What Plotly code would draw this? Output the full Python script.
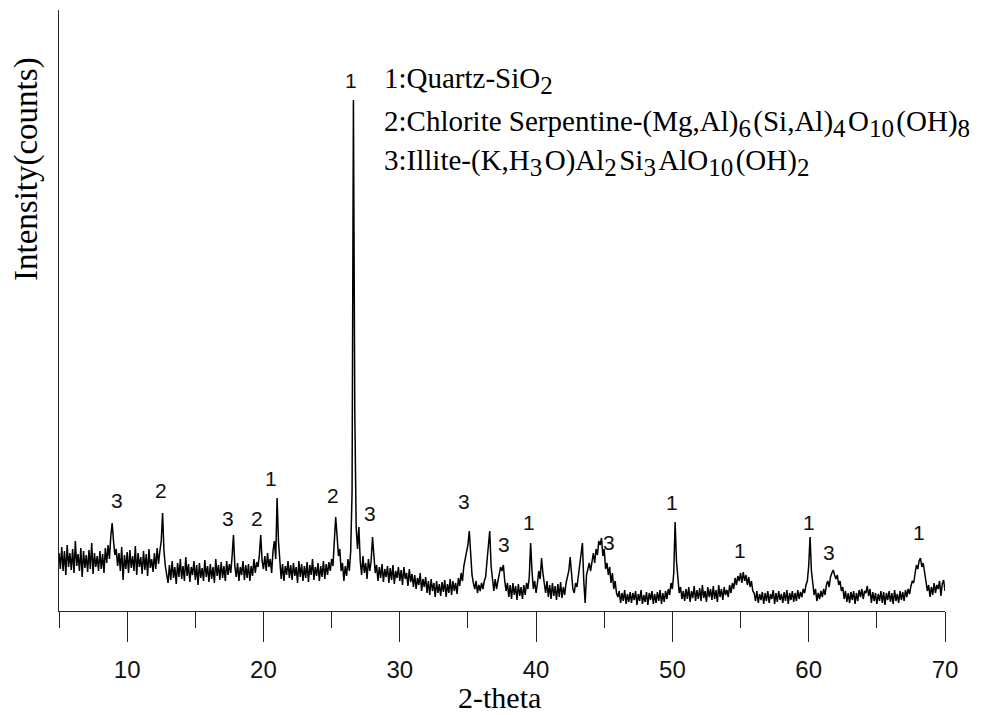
import numpy as np
import plotly.graph_objects as go

# ---- data ----
two_theta_start = 5.0
two_theta_step = 0.1

# intensity (counts, arbitrary), one row per degree: x.0 ... x.9
intensity = [
    58, 42, 64, 40, 60, 36, 66, 44, 58, 41,    # 5
    62, 38, 70, 45, 57, 40, 63, 34, 60, 43,    # 6
    56, 39, 61, 42, 68, 37, 58, 44, 55, 40,    # 7
    60, 42, 57, 38, 63, 48, 66, 52, 75, 88,    # 8
    70, 56, 62, 45, 58, 40, 64, 31, 56, 42,    # 9
    59, 38, 61, 43, 55, 40, 65, 36, 58, 44,    # 10
    54, 37, 60, 41, 57, 35, 62, 43, 52, 39,    # 11
    58, 42, 63, 47, 60, 70, 98, 60, 45, 38,    # 12
    28, 46, 31, 50, 33, 44, 27, 48, 34, 52,    # 13
    32, 45, 30, 54, 35, 47, 29, 44, 36, 50,    # 14
    31, 46, 26, 48, 33, 43, 30, 51, 34, 45,    # 15
    29, 47, 32, 44, 28, 52, 35, 46, 31, 49,    # 16
    33, 45, 30, 50, 36, 47, 38, 55, 76, 45,    # 17
    34, 48, 30, 44, 36, 50, 31, 46, 33, 47,    # 18
    30, 45, 35, 52, 38, 49, 44, 56, 76, 50,    # 19
    42, 55, 40, 58, 44, 52, 38, 60, 70, 52,    # 20
    113, 70, 44, 32, 47, 30, 45, 36, 50, 33,   # 21
    46, 31, 48, 35, 44, 28, 50, 34, 47, 30,    # 22
    45, 33, 49, 29, 46, 36, 52, 31, 44, 35,    # 23
    48, 30, 45, 34, 50, 32, 47, 36, 49, 40,    # 24
    52, 45, 70, 94, 75, 55, 62, 40, 48, 30,    # 25
    45, 35, 52, 40, 60, 118, 511, 200, 84, 62, # 26
    84, 50, 36, 55, 38, 48, 32, 52, 40, 50,    # 27
    74, 50, 38, 46, 30, 44, 33, 47, 29, 42,    # 28
    34, 45, 28, 43, 31, 46, 27, 40, 33, 44,    # 29
    30, 41, 26, 44, 32, 38, 25, 42, 29, 37,    # 30
    24, 36, 22, 33, 26, 38, 20, 32, 24, 34,    # 31
    18, 30, 16, 32, 20, 28, 14, 30, 18, 27,    # 32
    15, 29, 19, 31, 14, 27, 18, 32, 16, 30,    # 33
    20, 28, 17, 33, 25, 38, 30, 45, 52, 60,    # 34
    66, 80, 58, 36, 28, 22, 30, 18, 26, 20,    # 35
    28, 22, 30, 34, 50, 65, 80, 45, 28, 20,    # 36
    32, 22, 30, 38, 44, 40, 46, 30, 20, 28,    # 37
    14, 26, 12, 28, 16, 25, 11, 27, 15, 24,    # 38
    12, 26, 16, 28, 22, 34, 68, 40, 22, 30,    # 39
    18, 28, 40, 32, 53, 38, 26, 18, 30, 14,    # 40
    26, 12, 28, 15, 25, 11, 27, 14, 29, 13,    # 41
    24, 16, 28, 35, 40, 54, 36, 22, 18, 28,    # 42
    24, 34, 45, 55, 68, 30, 8, 36, 42, 48,     # 43
    40, 52, 58, 48, 62, 56, 70, 66, 73, 55,    # 44
    62, 42, 48, 36, 44, 28, 38, 22, 30, 18,    # 45
    14, 20, 8, 18, 10, 21, 7, 17, 9, 19,       # 46
    8, 18, 11, 20, 6, 17, 10, 21, 7, 16,       # 47
    9, 19, 6, 18, 11, 20, 7, 17, 8, 19,        # 48
    10, 21, 7, 18, 9, 20, 12, 22, 16, 28,      # 49
    22, 38, 89, 50, 30, 18, 24, 12, 20, 10,    # 50
    22, 12, 24, 9, 20, 13, 25, 10, 21, 12,     # 51
    23, 10, 26, 13, 20, 9, 24, 14, 22, 11,     # 52
    25, 12, 21, 9, 26, 14, 22, 11, 24, 16,     # 53
    21, 14, 26, 18, 28, 22, 33, 26, 35, 30,    # 54
    38, 28, 39, 30, 36, 26, 34, 24, 30, 20,    # 55
    18, 10, 20, 8, 17, 11, 19, 7, 18, 10,      # 56
    20, 8, 17, 12, 21, 7, 18, 9, 20, 11,       # 57
    17, 8, 19, 10, 21, 7, 18, 11, 20, 9,       # 58
    18, 10, 21, 12, 19, 14, 22, 18, 26, 30,    # 59
    45, 74, 40, 24, 16, 22, 10, 18, 12, 20,    # 60
    14, 22, 16, 26, 30, 24, 34, 38, 41, 36,    # 61
    32, 36, 26, 30, 20, 24, 12, 20, 9, 18,     # 62
    8, 19, 11, 20, 7, 18, 10, 21, 14, 22,      # 63
    12, 20, 18, 25, 15, 22, 8, 19, 10, 18,     # 64
    7, 17, 10, 20, 8, 19, 6, 18, 11, 20,       # 65
    9, 18, 7, 21, 10, 17, 8, 20, 11, 19,       # 66
    10, 21, 14, 22, 17, 25, 30, 28, 40, 46,    # 67
    42, 50, 53, 44, 48, 36, 30, 20, 26, 14,    # 68
    24, 16, 28, 18, 26, 22, 30, 15, 27, 31,    # 69
    20,                                        # 70
]

two_theta = np.round(
    two_theta_start + two_theta_step * np.arange(len(intensity)), 2
)

# peak labels (phase id) and their positions in data coords
peak_labels = ["3", "2", "3", "2", "1", "2", "1", "3", "3", "3",
               "1", "3", "1", "1", "1", "3", "1"]
peak_label_x = [9.23, 12.46, 17.38, 19.50, 20.55, 25.08, 26.42, 27.82, 34.71,
                37.65, 39.48, 45.35, 49.97, 54.96, 60.03, 61.49, 68.10]
peak_label_y = [111, 121, 93, 93, 133, 116, 531, 98, 110,
                67, 89, 69, 109, 61, 89, 59, 79]

SUB = "<sub><span style='font-size:25px'>{}</span></sub>&#8202;"
legend_lines = [
    "1:Quartz-SiO" + SUB.format("2"),
    "2:Chlorite Serpentine-(Mg,Al)" + SUB.format("6") + "(Si,Al)" + SUB.format("4")
    + "O" + SUB.format("10") + "(OH)" + SUB.format("8"),
    "3:Illite-(K,H" + SUB.format("3") + "O)Al" + SUB.format("2") + "Si" + SUB.format("3")
    + "AlO" + SUB.format("10") + "(OH)" + SUB.format("2"),
]

x_tick_vals = [10, 20, 30, 40, 50, 60, 70]
x_tick_text = ["10", "20", "30", "40", "50", "60", "70"]
x_minor_vals = [5, 15, 25, 35, 45, 55, 65]

# ---- figure ----
OFF = 8  # page body margin
W, H = 987 - OFF, 715 - OFF
ml, mr, mt, mb = 59 - OFF, 42, 10 - OFF, 104
pw, ph = W - ml - mr, H - mt - mb


def px_to_paper_y(py):
    return (OFF + H - mb - py) / ph


def px_to_paper_x(px):
    return (px - OFF - ml) / pw


fig = go.Figure()
fig.add_trace(go.Scatter(
    x=two_theta, y=intensity, mode="lines",
    line=dict(color="black", width=1.5), showlegend=False, hoverinfo="skip",
))

serif = "Liberation Serif, Times New Roman, serif"
sans = "Liberation Sans, Arial, sans-serif"

annotations = []
for t, xv, yv in zip(peak_labels, peak_label_x, peak_label_y):
    annotations.append(dict(
        x=xv, y=yv, xref="x", yref="y", text=t, showarrow=False,
        xanchor="center", yanchor="middle",
        font=dict(family=sans, size=21, color="#111"),
    ))

legend_py = [80, 123, 162]
for t, py in zip(legend_lines, legend_py):
    annotations.append(dict(
        x=px_to_paper_x(382), y=px_to_paper_y(py), xref="paper", yref="paper",
        text=t, showarrow=False, xanchor="left", yanchor="middle",
        font=dict(family=serif, size=29, color="black"),
    ))

# axis titles
annotations.append(dict(
    x=px_to_paper_x(499), y=px_to_paper_y(697), xref="paper", yref="paper",
    text="2-theta", showarrow=False, xanchor="center", yanchor="middle",
    font=dict(family=serif, size=30, color="black"),
))
annotations.append(dict(
    x=px_to_paper_x(26), y=px_to_paper_y(169), xref="paper", yref="paper",
    text="Intensity(counts)", showarrow=False, xanchor="center", yanchor="middle",
    textangle=-90,
    font=dict(family=serif, size=33, color="black"),
))

fig.update_layout(
    width=W, height=H,
    margin=dict(l=ml, r=mr, t=mt, b=mb, pad=0),
    paper_bgcolor="white", plot_bgcolor="white",
    annotations=annotations,
    xaxis=dict(
        range=[5, 70], showgrid=False, zeroline=False,
        showline=True, linecolor="#222", linewidth=1.3,
        ticks="outside", ticklen=30, tickwidth=1.3, tickcolor="#222",
        tickvals=x_tick_vals, ticktext=x_tick_text,
        ticklabelstandoff=7,
        tickfont=dict(family=sans, size=24, color="#111"),
        minor=dict(ticks="outside", ticklen=16, tickwidth=1.3,
                   tickcolor="#222", tickvals=x_minor_vals),
    ),
    yaxis=dict(
        range=[0, 601], showgrid=False, zeroline=False,
        showline=True, linecolor="#222", linewidth=1.3,
        ticks="", showticklabels=False,
    ),
)

fig.write_html("out.html")
